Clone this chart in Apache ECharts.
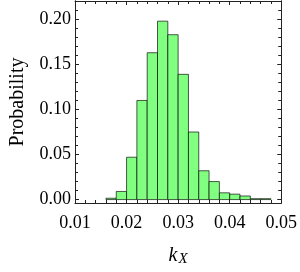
<!DOCTYPE html>
<html><head><meta charset="utf-8">
<script src="https://cdn.jsdelivr.net/npm/echarts@6/dist/echarts.min.js"></script>
<style>html,body{margin:0;padding:0;background:#fff}#c{width:300px;height:272px}</style>
</head><body><div id="c"></div>
<script>
// bin edges (left) and width
var binStarts = [0.016,0.018,0.020,0.022,0.024,0.026,0.028,0.030,0.032,0.034,0.036,0.038,0.040,0.042,0.044,0.046];
var binWidth = 0.002;
var probabilities = [0.0015,0.009,0.047,0.110,0.163,0.198,0.183,0.139,0.075,0.032,0.020,0.0075,0.006,0.004,0.001,0.001];
var yTickValues = [0,0.05,0.10,0.15,0.20];
var yMinorValues = [0.01,0.02,0.03,0.04,0.06,0.07,0.08,0.09,0.11,0.12,0.13,0.14,0.16,0.17,0.18,0.19,0.21,0.22];
var xTickLabels = ['0.01','0.02','0.03','0.04','0.05'];

var YMIN = -0.0038, YMAX = 0.2204;
var FONT = 'Liberation Serif';
var frameColor = '#222';

var data = binStarts.map(function(s,i){ return [s, s+binWidth, probabilities[i]]; });

function yAx(pos, labels, custom, len, show){
  return {
    type:'value', position:pos, min:YMIN, max:YMAX,
    axisLine:{show:show, lineStyle:{color:frameColor,width:1}},
    splitLine:{show:false},
    axisTick:{show:true, inside:true, length:len, customValues:custom, lineStyle:{color:frameColor,width:1}},
    axisLabel:{show:labels, customValues:custom, margin:4, fontFamily:FONT, fontSize:18, color:'#000',
      formatter:function(v){ return v.toFixed(2); }},
    name: labels ? 'Probability' : '', nameLocation:'middle', nameGap:47,
    nameTextStyle:{fontFamily:FONT, fontSize:20, color:'#000'}
  };
}
function xAx(pos, labels){
  return {
    type:'value', position:pos, min:0.01, max:0.05, interval:0.01,
    axisLine:{show:true, onZero:false, lineStyle:{color:frameColor,width:1}},
    splitLine:{show:false},
    axisTick:{show:true, inside:true, length:4, lineStyle:{color:frameColor,width:1}},
    minorTick:{show:true, splitNumber:5, length:3, lineStyle:{color:frameColor,width:1}},
    axisLabel:{show:labels, margin:11, fontFamily:FONT, fontSize:18, color:'#000',
      formatter:function(v){ var i=Math.round(v*100)-1; return xTickLabels[i]!==undefined?xTickLabels[i]:''; }},
    name: labels ? '{k|k}{s|X}' : '', nameLocation:'middle', nameGap:41,
    nameTextStyle:{rich:{
      k:{fontFamily:FONT, fontStyle:'italic', fontSize:20, color:'#000'},
      s:{fontFamily:FONT, fontStyle:'italic', fontSize:15, color:'#000', padding:[8,0,0,1]}
    }}
  };
}

var chart = echarts.init(document.getElementById('c'), null, {renderer:'canvas'});
chart.setOption({
  animation:false,
  grid:{left:65, right:17, top:1, bottom:54, containLabel:false},
  xAxis:[xAx('bottom',true), xAx('top',false)],
  yAxis:[
    yAx('left', true, yTickValues, 4, true),
    yAx('left', false, yMinorValues, 3, true),
    yAx('right', false, yTickValues, 4, true),
    yAx('right', false, yMinorValues, 3, true)
  ],
  series:[{
    type:'custom', xAxisIndex:0, yAxisIndex:0,
    data:data,
    renderItem:function(params, api){
      var p0 = api.coord([api.value(0), 0]);
      var p1 = api.coord([api.value(1), api.value(2)]);
      return {type:'rect', shape:{x:p0[0], y:p1[1], width:p1[0]-p0[0], height:p0[1]-p1[1]},
        style:{fill:'#80ff80', stroke:'rgba(0,0,0,0.65)', lineWidth:1}};
    },
    encode:{x:[0,1], y:2}
  }]
});
</script></body></html>
